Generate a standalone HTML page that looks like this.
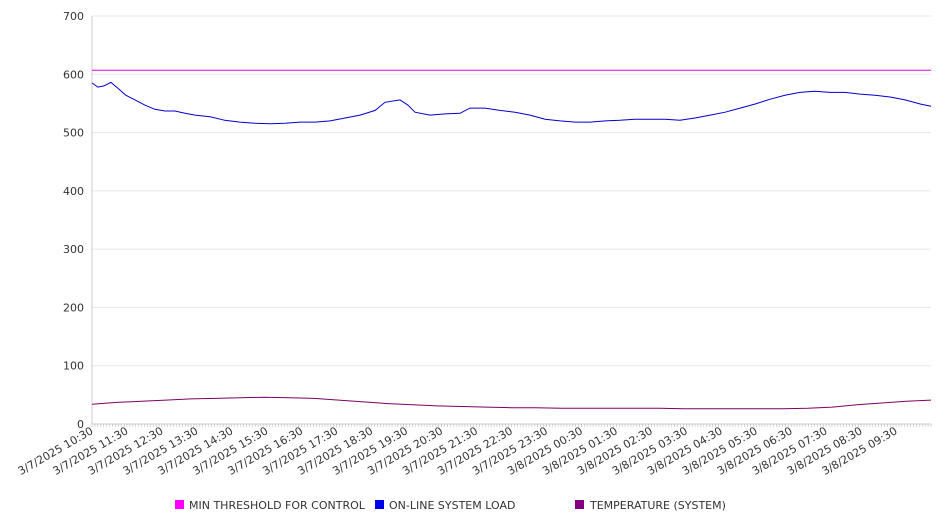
<!DOCTYPE html>
<html><head><meta charset="utf-8"><style>
body{margin:0;background:#fff;}
svg text{font-family:"DejaVu Sans","Liberation Sans",sans-serif;fill:#333;}
</style></head><body>
<svg id="chart" width="946" height="526" xmlns="http://www.w3.org/2000/svg">
<g id="grid"></g>
<g id="yaxis"></g>
<g id="xaxis"></g>
<g id="series"></g>
<g id="legend">
 <g><rect x="175" y="500" width="9" height="9" fill="#ff00ff"/><text x="189" y="509" font-size="11">MIN THRESHOLD FOR CONTROL</text></g>
 <g><rect x="375" y="500" width="9" height="9" fill="#0000ee"/><text x="389" y="509" font-size="11">ON-LINE SYSTEM LOAD</text></g>
 <g><rect x="575" y="500" width="9" height="9" fill="#800080"/><text x="590" y="509" font-size="11">TEMPERATURE (SYSTEM)</text></g>
</g>
</svg>
<script>
const xLabels=["3/7/2025 10:30","3/7/2025 11:30","3/7/2025 12:30","3/7/2025 13:30","3/7/2025 14:30","3/7/2025 15:30","3/7/2025 16:30","3/7/2025 17:30","3/7/2025 18:30","3/7/2025 19:30","3/7/2025 20:30","3/7/2025 21:30","3/7/2025 22:30","3/7/2025 23:30","3/8/2025 00:30","3/8/2025 01:30","3/8/2025 02:30","3/8/2025 03:30","3/8/2025 04:30","3/8/2025 05:30","3/8/2025 06:30","3/8/2025 07:30","3/8/2025 08:30","3/8/2025 09:30"];
const yTicks=[0,100,200,300,400,500,600,700];
const threshold=607;
const loadHours=[0,0.17,0.34,0.54,0.74,0.97,1.23,1.52,1.80,2.09,2.37,2.66,2.95,3.38,3.80,4.23,4.66,5.09,5.52,5.95,6.38,6.81,7.24,7.67,8.10,8.38,8.81,9.04,9.24,9.67,10.10,10.53,10.81,11.24,11.67,12.10,12.53,12.96,13.39,13.82,14.25,14.68,15.10,15.53,15.96,16.39,16.82,17.25,17.68,18.11,18.54,18.97,19.39,19.82,20.25,20.68,21.11,21.54,21.97,22.40,22.83,23.26,23.69,24.0];
const loadValues=[585,578,580,586,576,564,556,547,540,537,537,533,530,527,521,518,516,515,516,518,518,520,525,530,538,552,556,547,535,530,532,533,542,542,538,535,530,523,520,518,518,520,521,523,523,523,521,525,530,535,542,549,557,564,569,571,569,569,566,564,561,556,549,545];
const tempValues=[34,37,39,41,43,44,45,46,45,44,41,38,35,33,31,30,29,28,28,27,27,27,27,27,26,26,26,26,26,27,29,33,36,39,41];
const X0=92,X1=931,Y0=424,Y1=16,YMAX=700,HOURS=24;
const ns="http://www.w3.org/2000/svg";
const y=v=>Y0-(v/YMAX)*(Y0-Y1);
const xH=h=>X0+(h/HOURS)*(X1-X0);
function mk(tag,attrs,parent){const e=document.createElementNS(ns,tag);for(const k in attrs)e.setAttribute(k,attrs[k]);parent.appendChild(e);return e;}
const grid=document.getElementById('grid'),ya=document.getElementById('yaxis'),xa=document.getElementById('xaxis'),se=document.getElementById('series');
yTicks.forEach(t=>{
 const l=mk('line',{x1:X0,x2:X1,y1:y(t),y2:y(t),stroke:'#e6e6e6','stroke-width':1},grid);
 
 
 const tx=mk('text',{x:X0-8,y:y(t)+4,'text-anchor':'end','font-size':11},ya);
 tx.textContent=t;
 
 
});
mk('line',{x1:X0,x2:X0,y1:Y1,y2:Y0,stroke:'#ccc'},ya);
mk('line',{x1:X0,x2:X1,y1:Y0,y2:Y0,stroke:'#ccc'},xa);
for(let i=0;i<=HOURS*12;i++){const xx=xH(i/12);mk('line',{x1:xx,x2:xx,y1:Y0,y2:Y0+3,stroke:'#bbb','stroke-width':0.6},xa);}
xLabels.forEach((s,i)=>{
 const xx=xH(i)+2;
 const tx=mk('text',{x:xx,y:Y0+9,'text-anchor':'end','font-size':11,transform:`rotate(-30 ${xx} ${Y0+9})`},xa);
 tx.textContent=s;
 
 
});
function line(hs,vals,color,name){
 const pts=vals.map((v,i)=>xH(hs[i]).toFixed(1)+','+y(v).toFixed(1)).join(' ');
 const p=mk('polyline',{points:pts,fill:'none',stroke:color,'stroke-width':1},se);
 
 
}
const even=n=>Array.from({length:n},(_,i)=>i*HOURS/(n-1));
line([0,HOURS],[threshold,threshold],'#dd00dd','threshold-line');
line(loadHours,loadValues,'#0000cc','system-load-line');
line(even(tempValues.length),tempValues,'#800060','temperature-line');
</script>
</body></html>
